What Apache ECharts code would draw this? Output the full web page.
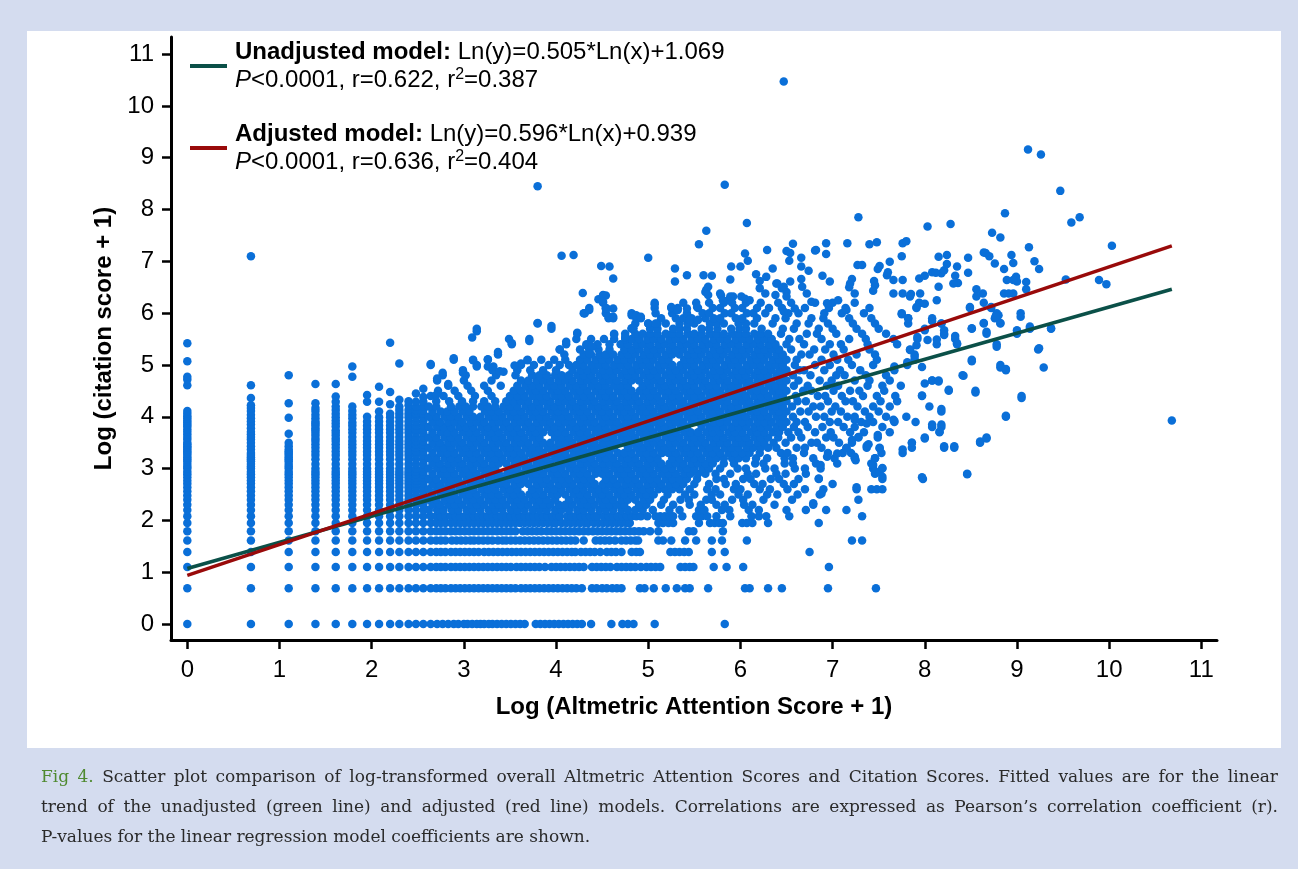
<!DOCTYPE html>
<html>
<head>
<meta charset="utf-8" />
<title>Altmetric vs citation scatter</title>
<script src="https://cdn.jsdelivr.net/npm/echarts@6/dist/echarts.min.js"></script>
<style>
  body { margin: 0; width: 1298px; height: 869px; background: #d4dcef; position: relative; overflow: hidden; }
  #panel { position: absolute; left: 27px; top: 31px; width: 1254px; height: 717px; background: #fff; }
  #main { position: absolute; left: 0; top: 0; width: 1298px; height: 869px; }
  #caption { position: absolute; left: 41px; top: 761px; width: 1237px; font-family: 'DejaVu Serif', serif; font-size: 17px; line-height: 30px; color: #2a2a2a; }
  #caption div { white-space: nowrap; text-align: justify; text-align-last: justify; }
  #caption div.last { text-align-last: left; }
  #caption .fig { color: #4f8a30; }
</style>
</head>
<body>
<div id="panel"></div>
<div id="main"></div>
<div id="caption">
  <div><span class="fig">Fig 4.</span> Scatter plot comparison of log-transformed overall Altmetric Attention Scores and Citation Scores. Fitted values are for the linear</div>
  <div>trend of the unadjusted (green line) and adjusted (red line) models. Correlations are expressed as Pearson’s correlation coefficient (r).</div>
  <div class="last">P-values for the linear regression model coefficients are shown.</div>
</div>
<script type="text/javascript">
var myChart = echarts.init(document.getElementById('main'));

const FONT = 'Liberation Sans, Arial, sans-serif';

// tick labels
const xTicks = [0, 1, 2, 3, 4, 5, 6, 7, 8, 9, 10, 11];
const yTicks = [0, 1, 2, 3, 4, 5, 6, 7, 8, 9, 10, 11];

// low citation rows (log values), x positions of dots along each row
const citeRows = [0, 0.69, 1.10, 1.39, 1.61, 1.79, 1.95, 2.08];
const citeRowX = [
  [0,0.69,1.10,1.39,1.61,1.79,1.95,2.08,2.20,2.30,2.40,2.48,2.56,2.64,2.71,2.77,2.83,2.89,2.94,3.00,3.04,3.09,3.14,3.18,3.22,3.27,3.31,3.36,3.41,3.46,3.51,3.56,3.61,3.66,3.78,3.83,3.88,3.93,3.98,4.03,4.08,4.13,4.18,4.23,4.28,4.38,4.60,4.72,4.78,4.84,5.07,5.83],
  [0,0.69,1.10,1.39,1.61,1.79,1.95,2.08,2.20,2.30,2.40,2.48,2.56,2.64,2.70,2.75,2.80,2.86,2.91,2.96,3.01,3.06,3.11,3.16,3.21,3.26,3.31,3.36,3.41,3.46,3.51,3.56,3.62,3.67,3.72,3.77,3.82,3.87,3.92,3.97,4.02,4.07,4.12,4.17,4.22,4.28,4.39,4.44,4.50,4.55,4.61,4.66,4.71,4.91,4.96,5.06,5.19,5.31,5.40,5.45,5.65,6.05,6.10,6.30,6.45,6.95,7.47],
  [0,0.69,1.10,1.39,1.61,1.79,1.95,2.08,2.20,2.30,2.40,2.48,2.56,2.64,2.70,2.75,2.80,2.86,2.91,2.96,3.01,3.06,3.11,3.16,3.21,3.26,3.31,3.36,3.41,3.46,3.51,3.57,3.62,3.67,3.72,3.77,3.82,3.88,3.95,4.00,4.05,4.10,4.15,4.20,4.25,4.30,4.39,4.44,4.49,4.54,4.59,4.66,4.71,4.76,4.81,4.86,4.92,4.98,5.03,5.08,5.13,5.35,5.40,5.45,5.49,5.71,5.85,6.03,6.96],
  [0,0.69,1.10,1.39,1.61,1.79,1.95,2.08,2.20,2.30,2.40,2.48,2.56,2.64,2.70,2.75,2.80,2.86,2.91,2.96,3.01,3.06,3.11,3.16,3.22,3.27,3.32,3.37,3.42,3.47,3.52,3.57,3.62,3.67,3.72,3.77,3.82,3.87,3.92,3.97,4.02,4.07,4.12,4.17,4.21,4.27,4.32,4.37,4.42,4.48,4.55,4.60,4.65,4.71,4.82,4.87,4.91,5.24,5.29,5.34,5.39,5.44,5.69,5.83,6.75],
  [0,0.69,1.10,1.39,1.61,1.79,1.95,2.08,2.20,2.30,2.40,2.48,2.56,2.64,2.70,2.75,2.80,2.87,2.92,2.97,3.02,3.07,3.11,3.16,3.21,3.26,3.31,3.37,3.42,3.46,3.51,3.56,3.61,3.66,3.71,3.76,3.81,3.86,3.91,3.96,4.01,4.06,4.11,4.16,4.21,4.30,4.43,4.48,4.53,4.58,4.64,4.71,4.76,4.81,4.86,4.89,5.11,5.16,5.25,5.40,5.52,5.69,5.80,6.07,7.21,7.32],
  [0,0.69,1.10,1.39,1.61,1.79,1.95,2.08,2.20,2.30,2.40,2.48,2.56,2.64,2.70,2.75,2.80,2.86,2.91,2.96,3.01,3.06,3.11,3.16,3.21,3.26,3.31,3.36,3.41,3.46,3.51,3.56,3.64,3.69,3.74,3.79,3.84,3.90,3.95,4.00,4.05,4.10,4.15,4.20,4.25,4.30,4.35,4.40,4.45,4.50,4.55,4.60,4.65,4.70,4.75,4.80,4.85,4.90,4.95,5.02,5.11,5.44,5.49,5.81],
  [0,0.69,1.10,1.39,1.61,1.79,1.95,2.08,2.20,2.30,2.40,2.48,2.56,2.64,2.70,2.75,2.80,2.86,2.91,2.96,3.01,3.06,3.11,3.16,3.21,3.26,3.31,3.36,3.41,3.46,3.51,3.56,3.61,3.66,3.71,3.76,3.81,3.86,3.91,3.96,4.00,4.06,4.11,4.16,4.21,4.26,4.31,4.35,4.41,4.46,4.51,4.56,4.61,4.66,4.71,4.76,4.80,5.11,5.16,5.22,5.27,5.55,5.67,5.72,5.77,5.81,6.02,6.07,6.13,6.30,6.85],
  [0,0.69,1.10,1.39,1.61,1.79,1.95,2.08,2.20,2.30,2.40,2.48,2.56,2.64,2.70,2.75,2.80,2.86,2.91,2.96,3.01,3.06,3.11,3.16,3.21,3.26,3.31,3.36,3.41,3.46,3.51,3.56,3.61,3.66,3.71,3.76,3.81,3.86,3.91,3.96,4.01,4.04,4.12,4.17,4.22,4.27,4.32,4.37,4.42,4.45,4.52,4.57,4.62,4.67,4.72,4.77,4.82,4.87,4.92,4.99,5.08,5.13,5.18,5.23,5.27,5.37,5.52,5.58,5.64,5.74,5.89,6.12,6.20,6.28,6.53,7.32]
];

// low altmetric columns (log values), y positions above the rows
const altCols = [0, 0.69, 1.10, 1.39, 1.61, 1.79, 1.95, 2.08, 2.20, 2.30, 2.40, 2.48, 2.56];
const altColY = [
  [2.20,2.30,2.40,2.48,2.56,2.64,2.71,2.77,2.83,2.89,2.94,3.00,3.04,3.09,3.14,3.18,3.22,3.26,3.30,3.33,3.37,3.40,3.43,3.47,3.50,3.56,3.61,3.66,3.71,3.76,3.81,3.85,3.89,3.93,3.97,4.01,4.06,4.11,4.61,4.72,4.77,5.07,5.42],
  [2.20,2.30,2.40,2.48,2.56,2.64,2.71,2.77,2.83,2.89,2.94,3.00,3.04,3.09,3.14,3.18,3.22,3.26,3.30,3.37,3.43,3.50,3.56,3.61,3.66,3.71,3.78,3.85,3.91,3.97,4.04,4.11,4.17,4.22,4.36,4.61,7.10],
  [2.20,2.30,2.40,2.48,2.56,2.64,2.71,2.77,2.83,2.89,2.94,3.00,3.04,3.09,3.14,3.18,3.22,3.26,3.30,3.33,3.37,3.43,3.50,3.67,3.98,4.26,4.80],
  [2.20,2.30,2.40,2.48,2.56,2.64,2.71,2.77,2.83,2.89,2.94,3.00,3.09,3.18,3.26,3.33,3.40,3.47,3.53,3.58,3.64,3.69,3.74,3.78,3.83,3.87,3.91,3.97,4.04,4.11,4.17,4.26,4.63],
  [2.20,2.30,2.40,2.48,2.56,2.64,2.71,2.77,2.83,2.89,2.94,3.00,3.09,3.18,3.26,3.33,3.40,3.47,3.53,3.58,3.64,3.69,3.74,3.81,3.87,3.93,3.99,4.06,4.13,4.20,4.29,4.39,4.63],
  [2.20,2.30,2.40,2.48,2.56,2.64,2.71,2.77,2.83,2.89,2.94,3.00,3.09,3.18,3.26,3.33,3.40,3.47,3.53,3.61,3.69,3.76,3.83,3.89,3.97,4.04,4.11,4.20,4.77,4.97],
  [2.20,2.30,2.40,2.48,2.56,2.64,2.71,2.77,2.83,2.89,2.94,3.00,3.09,3.18,3.26,3.33,3.40,3.47,3.53,3.61,3.69,3.76,3.83,3.91,4.00,4.29,4.42],
  [2.20,2.30,2.40,2.48,2.56,2.64,2.71,2.77,2.83,2.89,2.94,3.00,3.09,3.18,3.26,3.33,3.40,3.47,3.53,3.61,3.69,3.76,3.83,3.91,3.99,4.10,4.29,4.58],
  [2.20,2.30,2.40,2.48,2.56,2.64,2.71,2.77,2.83,2.89,2.94,3.00,3.09,3.18,3.26,3.33,3.40,3.47,3.53,3.61,3.69,3.76,3.83,3.91,3.99,4.06,4.24,4.48,5.43],
  [2.20,2.30,2.40,2.48,2.56,2.64,2.71,2.77,2.83,2.89,2.94,3.00,3.09,3.18,3.26,3.33,3.40,3.47,3.53,3.61,3.69,3.76,3.83,3.91,3.99,4.06,4.13,4.20,4.33,5.03],
  [2.20,2.30,2.40,2.48,2.56,2.64,2.71,2.77,2.83,2.89,2.94,3.00,3.09,3.18,3.26,3.33,3.40,3.47,3.53,3.61,3.69,3.76,3.83,3.91,3.99,4.06,4.13,4.22,4.30],
  [2.20,2.30,2.40,2.48,2.56,2.64,2.71,2.77,2.83,2.89,2.94,3.00,3.09,3.18,3.26,3.33,3.40,3.47,3.53,3.61,3.69,3.76,3.83,3.91,3.99,4.06,4.13,4.20,4.29,4.45],
  [2.20,2.30,2.40,2.48,2.56,2.64,2.71,2.77,2.83,2.89,2.94,3.00,3.09,3.18,3.26,3.33,3.40,3.47,3.53,3.61,3.69,3.76,3.83,3.91,3.99,4.06,4.13,4.21,4.29,4.38,4.54]
];

// main cloud, read row by row (y), x positions of dots
const cloudRows = [2.2,2.3,2.4,2.5,2.6,2.7,2.8,2.9,3.0,3.1,3.2,3.3,3.4,3.5,3.6,3.7,3.8,3.9,4.0,4.1,4.2,4.3,4.4,4.5,4.6,4.7,4.8,4.9,5.0,5.1,5.2,5.3,5.4,5.5,5.6,5.7,5.8,5.9,6.0,6.1,6.2];
const cloudRowX = [
  [2.62,2.71,2.78,2.87,2.94,3.03,3.10,3.18,3.27,3.34,3.42,3.51,3.58,3.66,3.75,3.82,3.90,3.99,4.06,4.14,4.23,4.30,4.38,4.47,4.54,4.62,4.71,4.78,4.86,4.94,5.05,5.23,5.34,5.55,5.61,5.80,5.88,6.09,6.20,6.50,6.71,6.93,7.15],
  [2.66,2.74,2.83,2.90,2.98,3.07,3.14,3.22,3.31,3.38,3.46,3.55,3.62,3.70,3.79,3.86,3.94,4.03,4.10,4.18,4.27,4.34,4.42,4.51,4.58,4.66,4.74,4.90,4.98,5.14,5.27,5.45,5.57,5.74,5.83,6.04,6.13,6.37,6.79],
  [2.62,2.70,2.79,2.86,2.94,3.03,3.10,3.18,3.27,3.34,3.42,3.51,3.58,3.66,3.75,3.82,3.90,3.99,4.14,4.23,4.30,4.38,4.47,4.54,4.62,4.71,4.78,4.86,4.95,5.02,5.17,5.35,5.44,5.63,5.69,5.91,6.03,6.25,6.56,7.28],
  [2.66,2.75,2.82,2.90,2.99,3.06,3.14,3.23,3.30,3.38,3.47,3.54,3.62,3.71,3.78,3.86,3.95,4.02,4.10,4.19,4.26,4.34,4.43,4.50,4.58,4.67,4.74,4.82,4.91,4.98,5.06,5.21,5.40,5.50,5.69,5.78,5.98,6.08,6.29,6.40,6.62,6.86],
  [2.62,2.71,2.78,2.86,2.95,3.02,3.10,3.19,3.26,3.34,3.43,3.50,3.58,3.74,3.82,3.91,3.98,4.06,4.15,4.22,4.30,4.39,4.46,4.54,4.63,4.70,4.78,4.87,4.94,5.02,5.11,5.18,5.26,5.34,5.45,5.64,5.73,5.93,6.00,6.21,6.32,6.51,6.70,6.90,7.26,7.42,7.48,7.54],
  [2.66,2.74,2.83,2.90,2.98,3.07,3.14,3.22,3.31,3.38,3.46,3.55,3.62,3.70,3.79,3.86,3.94,4.03,4.10,4.18,4.27,4.34,4.42,4.51,4.58,4.66,4.75,4.82,4.90,4.99,5.06,5.14,5.23,5.30,5.38,5.50,5.66,5.84,5.95,6.15,6.24,6.47,6.58,7.00],
  [2.62,2.70,2.79,2.86,2.94,3.03,3.10,3.18,3.27,3.34,3.42,3.51,3.58,3.66,3.75,3.82,3.90,3.99,4.06,4.14,4.23,4.30,4.38,4.54,4.62,4.71,4.78,4.86,4.95,5.02,5.10,5.19,5.26,5.34,5.42,5.53,5.74,5.82,6.03,6.11,6.33,6.42,6.63,6.85,7.54,7.98],
  [2.66,2.75,2.82,2.90,2.99,3.06,3.14,3.23,3.30,3.38,3.47,3.54,3.62,3.71,3.78,3.86,3.95,4.02,4.10,4.19,4.26,4.34,4.43,4.50,4.58,4.67,4.74,4.82,4.91,4.98,5.06,5.15,5.22,5.30,5.39,5.46,5.54,5.62,5.73,5.89,6.08,6.17,6.39,6.49,6.71,7.46,8.46],
  [2.62,2.71,2.78,2.86,2.95,3.02,3.10,3.19,3.26,3.34,3.50,3.58,3.67,3.74,3.82,3.91,3.98,4.06,4.15,4.22,4.30,4.39,4.46,4.54,4.63,4.70,4.78,4.87,4.94,5.02,5.11,5.18,5.26,5.35,5.42,5.50,5.59,5.66,5.78,5.97,6.06,6.27,6.37,6.59,6.70,6.87,7.44,7.54],
  [2.66,2.74,2.83,2.90,2.98,3.07,3.14,3.22,3.31,3.38,3.46,3.55,3.62,3.70,3.79,3.86,3.94,4.03,4.10,4.18,4.27,4.34,4.42,4.51,4.58,4.66,4.75,4.82,4.90,4.99,5.06,5.14,5.23,5.30,5.38,5.47,5.54,5.62,5.70,5.82,5.93,6.16,6.25,6.48,6.57,6.82,7.05,7.42],
  [2.62,2.70,2.79,2.86,2.94,3.03,3.10,3.18,3.27,3.34,3.42,3.51,3.58,3.66,3.75,3.82,3.90,3.99,4.06,4.14,4.23,4.30,4.38,4.47,4.54,4.62,4.71,4.78,4.86,4.95,5.02,5.10,5.26,5.34,5.43,5.50,5.58,5.67,5.74,5.82,5.91,5.98,6.06,6.17,6.29,6.48,6.57,6.79,7.02,7.24,7.46],
  [2.66,2.75,2.82,2.90,2.99,3.06,3.14,3.23,3.30,3.38,3.47,3.54,3.62,3.71,3.78,3.86,3.95,4.02,4.10,4.19,4.26,4.34,4.43,4.50,4.58,4.67,4.74,4.82,4.91,4.98,5.06,5.15,5.22,5.30,5.39,5.46,5.54,5.63,5.70,5.78,5.87,5.94,6.02,6.10,6.21,6.44,6.51,6.69,6.95,7.11,7.20,7.53,7.76],
  [2.62,2.71,2.78,2.86,2.95,3.02,3.10,3.19,3.26,3.34,3.43,3.50,3.58,3.67,3.74,3.82,3.91,3.98,4.06,4.15,4.22,4.30,4.39,4.46,4.54,4.63,4.78,4.87,4.94,5.02,5.11,5.18,5.26,5.35,5.42,5.50,5.59,5.66,5.74,5.83,5.90,5.98,6.07,6.14,6.22,6.30,6.39,6.61,6.70,6.88,7.15,7.37,7.51,7.86,8.21,8.32],
  [2.66,2.74,2.83,2.90,2.98,3.07,3.14,3.22,3.31,3.38,3.46,3.55,3.62,3.70,3.79,3.86,3.94,4.03,4.10,4.18,4.27,4.34,4.42,4.51,4.58,4.66,4.75,4.82,4.90,4.99,5.06,5.14,5.23,5.30,5.38,5.47,5.54,5.62,5.71,5.78,5.86,5.95,6.02,6.10,6.19,6.26,6.36,6.49,6.77,6.83,7.07,7.21,7.86,8.60],
  [2.62,2.70,2.79,2.86,2.94,3.03,3.10,3.18,3.27,3.34,3.42,3.51,3.58,3.66,3.75,3.82,3.99,4.06,4.14,4.23,4.30,4.38,4.47,4.54,4.62,4.71,4.78,4.86,4.95,5.02,5.10,5.19,5.26,5.34,5.43,5.50,5.58,5.67,5.74,5.82,5.91,5.98,6.06,6.15,6.22,6.30,6.41,6.55,6.66,6.93,7.01,7.28,7.49,8.00,8.67],
  [2.66,2.75,2.82,2.90,2.99,3.06,3.14,3.23,3.30,3.38,3.47,3.54,3.62,3.71,3.78,3.86,3.95,4.02,4.10,4.19,4.26,4.34,4.43,4.50,4.58,4.67,4.74,4.82,4.91,4.98,5.06,5.15,5.22,5.30,5.39,5.46,5.54,5.63,5.70,5.78,5.87,5.94,6.02,6.11,6.18,6.26,6.35,6.42,6.52,6.63,6.81,6.98,7.19,7.34,7.62,8.16],
  [2.62,2.71,2.78,2.86,2.95,3.02,3.10,3.19,3.26,3.34,3.43,3.50,3.58,3.67,3.74,3.82,3.91,3.98,4.06,4.15,4.22,4.30,4.39,4.46,4.54,4.63,4.70,4.78,4.87,4.94,5.02,5.11,5.18,5.26,5.35,5.42,5.58,5.67,5.74,5.82,5.91,5.98,6.06,6.15,6.22,6.30,6.39,6.46,6.58,6.73,6.89,7.12,7.24,7.54,8.08,8.18],
  [2.66,2.74,2.83,2.90,2.98,3.07,3.14,3.22,3.31,3.38,3.46,3.55,3.62,3.70,3.79,3.86,3.94,4.03,4.10,4.18,4.27,4.34,4.42,4.51,4.58,4.66,4.75,4.82,4.90,4.99,5.06,5.14,5.23,5.30,5.38,5.47,5.54,5.62,5.71,5.78,5.86,5.95,6.02,6.10,6.19,6.26,6.34,6.43,6.50,6.61,6.70,6.97,7.06,7.31,7.44,7.67,7.90],
  [2.62,2.70,2.79,2.86,2.94,3.03,3.10,3.18,3.27,3.34,3.42,3.51,3.58,3.66,3.75,3.82,3.90,3.99,4.06,4.14,4.23,4.30,4.38,4.47,4.54,4.62,4.71,4.78,4.86,4.95,5.02,5.10,5.19,5.26,5.34,5.43,5.50,5.58,5.67,5.74,5.82,5.91,5.98,6.06,6.15,6.22,6.30,6.39,6.46,6.57,6.82,6.91,7.16,7.24,7.40,7.58,7.80,8.88],
  [2.66,2.75,2.82,2.90,2.99,3.06,3.23,3.30,3.38,3.47,3.54,3.62,3.71,3.78,3.86,3.95,4.02,4.10,4.19,4.26,4.34,4.43,4.50,4.58,4.67,4.74,4.82,4.91,4.98,5.06,5.15,5.22,5.30,5.39,5.46,5.54,5.63,5.70,5.78,5.87,5.94,6.02,6.11,6.18,6.26,6.35,6.42,6.50,6.65,6.74,6.99,7.09,7.35,7.50,8.18],
  [2.62,2.70,2.86,2.95,3.02,3.10,3.19,3.26,3.34,3.43,3.50,3.58,3.67,3.74,3.82,3.91,3.98,4.06,4.15,4.22,4.30,4.39,4.46,4.54,4.63,4.70,4.78,4.87,4.94,5.02,5.11,5.18,5.26,5.35,5.42,5.50,5.59,5.66,5.74,5.83,5.90,5.98,6.07,6.14,6.22,6.31,6.38,6.46,6.56,6.79,6.87,7.03,7.27,7.44,7.62,8.05],
  [2.70,2.84,2.98,3.10,3.22,3.34,3.46,3.54,3.62,3.70,3.79,3.86,3.94,4.03,4.10,4.18,4.27,4.34,4.42,4.51,4.58,4.66,4.75,4.82,4.90,4.99,5.06,5.14,5.23,5.30,5.38,5.47,5.54,5.62,5.71,5.78,5.86,5.95,6.02,6.10,6.19,6.26,6.34,6.43,6.50,6.62,6.71,6.95,7.14,7.22,7.52,7.70],
  [2.64,2.78,2.94,3.12,3.30,3.50,3.58,3.66,3.75,3.82,3.90,3.99,4.06,4.14,4.23,4.30,4.38,4.47,4.54,4.62,4.71,4.78,4.86,4.95,5.02,5.10,5.19,5.26,5.34,5.43,5.50,5.58,5.67,5.74,5.82,5.91,5.98,6.06,6.15,6.22,6.30,6.39,6.46,6.60,6.84,6.92,7.10,7.33,7.48,7.68,7.97,9.05],
  [2.72,2.90,3.08,3.26,3.54,3.62,3.71,3.78,3.86,3.95,4.02,4.10,4.19,4.26,4.34,4.43,4.50,4.58,4.67,4.74,4.82,4.91,4.98,5.06,5.15,5.22,5.30,5.39,5.46,5.54,5.63,5.70,5.78,5.87,5.94,6.02,6.11,6.18,6.26,6.35,6.42,6.50,6.68,6.77,7.01,7.19,7.29,7.56,8.26,8.55],
  [2.83,3.04,3.22,3.40,3.58,3.67,3.74,3.82,3.91,3.98,4.06,4.15,4.22,4.30,4.39,4.46,4.54,4.63,4.70,4.78,4.94,5.02,5.11,5.18,5.26,5.35,5.42,5.50,5.59,5.66,5.74,5.83,5.90,5.98,6.07,6.14,6.22,6.31,6.38,6.46,6.58,6.73,6.94,7.06,7.38,7.54,7.74],
  [2.71,3.00,3.30,3.62,3.70,3.79,3.86,3.94,4.03,4.10,4.18,4.27,4.34,4.42,4.51,4.58,4.66,4.75,4.82,4.90,4.99,5.06,5.14,5.23,5.30,5.38,5.47,5.54,5.62,5.71,5.78,5.86,5.95,6.02,6.10,6.19,6.26,6.34,6.43,6.50,6.63,6.86,6.99,7.24,7.40,7.62,8.08,8.15],
  [2.77,3.02,3.35,3.56,3.74,3.82,3.90,3.99,4.06,4.14,4.23,4.30,4.38,4.47,4.54,4.62,4.71,4.78,4.86,4.95,5.02,5.10,5.19,5.26,5.34,5.43,5.50,5.58,5.67,5.74,5.82,5.91,5.98,6.06,6.15,6.22,6.30,6.39,6.46,6.57,6.76,7.04,7.13,7.36,7.58,8.41],
  [2.99,3.31,3.58,3.72,3.86,4.00,4.18,4.27,4.34,4.42,4.51,4.58,4.66,4.75,4.82,4.90,4.99,5.06,5.14,5.23,5.30,5.38,5.47,5.54,5.62,5.71,5.78,5.86,5.95,6.02,6.10,6.19,6.26,6.34,6.43,6.50,6.64,6.69,6.91,7.08,7.30,7.67,8.88],
  [2.64,3.14,3.62,3.76,3.92,4.04,4.14,4.22,4.30,4.39,4.46,4.54,4.63,4.70,4.78,4.87,4.94,5.02,5.11,5.18,5.26,5.35,5.42,5.50,5.59,5.66,5.74,5.83,5.90,5.98,6.07,6.14,6.22,6.31,6.38,6.46,6.59,6.81,6.97,7.21,7.44,7.81,8.82],
  [2.89,3.10,3.26,3.69,3.84,3.98,4.10,4.26,4.34,4.43,4.50,4.58,4.67,4.74,4.82,4.91,4.98,5.06,5.15,5.22,5.39,5.46,5.54,5.63,5.70,5.78,5.87,5.94,6.02,6.11,6.18,6.26,6.35,6.42,6.50,6.61,6.88,7.05,7.17,7.48,7.89,8.51],
  [3.37,4.09,4.30,4.38,4.47,4.54,4.62,4.71,4.78,4.86,4.95,5.02,5.10,5.19,5.26,5.34,5.43,5.50,5.58,5.67,5.74,5.82,5.91,5.98,6.06,6.15,6.22,6.30,6.39,6.46,6.66,6.75,7.01,7.26,7.46,7.89],
  [4.04,4.26,4.36,4.46,4.58,4.74,4.82,4.90,4.99,5.06,5.14,5.23,5.30,5.38,5.47,5.54,5.62,5.71,5.78,5.86,5.95,6.02,6.10,6.19,6.26,6.34,6.42,6.55,6.80,6.92,7.12,7.40,7.84,9.23],
  [3.52,4.11,4.33,4.45,4.58,4.70,4.78,4.87,4.94,5.02,5.11,5.18,5.26,5.35,5.42,5.50,5.59,5.66,5.74,5.83,5.90,5.98,6.07,6.14,6.22,6.31,6.38,6.50,6.69,6.97,7.09,7.38,7.70,8.13,8.35,8.78],
  [3.49,3.71,4.22,4.38,4.52,4.63,4.75,4.82,4.90,4.99,5.06,5.14,5.23,5.30,5.38,5.47,5.54,5.62,5.71,5.78,5.86,5.95,6.02,6.10,6.19,6.26,6.34,6.53,6.64,6.88,7.18,7.36,7.66,7.92,8.33],
  [4.23,4.63,4.75,4.86,4.94,5.02,5.10,5.19,5.26,5.34,5.43,5.50,5.58,5.67,5.74,5.82,5.91,5.98,6.06,6.15,6.22,6.30,6.44,6.72,6.83,7.04,7.32,7.58,8.21,8.67,9.00],
  [3.14,3.95,4.82,5.02,5.10,5.27,5.34,5.42,5.58,5.66,5.75,5.90,5.99,6.06,6.23,6.46,6.58,6.85,7.00,7.26,7.50,8.00,8.51,9.14,9.37],
  [3.80,4.86,5.00,5.10,5.19,5.34,5.43,5.50,5.67,5.74,5.82,5.98,6.06,6.15,6.35,6.61,6.74,6.95,7.22,7.46,7.82,8.18,8.64,8.82],
  [4.57,4.62,4.87,4.92,5.14,5.30,5.38,5.47,5.62,5.71,5.78,5.95,6.02,6.18,6.38,6.49,6.77,6.90,7.18,7.42,7.82,8.08,8.76],
  [4.31,4.54,4.82,5.08,5.26,5.42,5.59,5.66,5.83,5.90,6.07,6.14,6.27,6.52,6.63,6.91,7.10,7.34,7.75,8.78,9.04],
  [4.36,4.54,5.07,5.25,5.32,5.54,5.70,5.78,5.94,6.02,6.18,6.31,6.45,6.70,6.96,7.14,7.40,7.91,8.49,8.72],
  [4.51,5.07,5.38,5.52,5.66,5.82,5.91,6.06,6.22,6.41,6.55,6.81,7.00,7.24,7.94,8.64]
];

// isolated dots: upper fringe, right tail and outliers [x, y]
const scattered = [
  [3.80,8.45],[5.83,8.48],[6.47,10.47],[9.12,9.16],[9.26,9.06],[9.47,8.36],[8.87,7.93],[9.59,7.75],[9.68,7.85],[8.28,7.72],
  [8.03,7.67],[7.28,7.85],[6.07,7.74],[5.63,7.59],[5.55,7.33],[8.73,7.55],[8.82,7.46],[10.03,7.30],[9.13,7.27],[9.19,7.00],
  [9.24,6.85],[9.89,6.64],[9.97,6.56],[10.68,3.93],
  [4.06,7.11],[4.19,7.12],[5.00,7.07],[4.49,6.91],[4.58,6.90],[4.62,6.67],[5.29,6.86],[5.42,6.73],[5.29,6.61],[5.69,6.72],
  [5.60,6.73],[6.05,7.15],[6.08,7.01],[5.90,6.90],[6.00,6.90],[5.89,6.65],[6.17,6.75],[6.28,6.70],[6.29,7.22],[6.50,7.20],
  [6.57,7.34],[6.53,7.01],[6.66,7.07],[6.81,7.21],[6.93,7.35],[6.93,7.14],[7.16,7.35],[7.40,7.33],[7.48,7.37],[7.75,7.10],
  [7.76,7.35],[7.80,7.39],[7.27,6.93],[7.32,6.93],[7.51,6.91],[7.49,6.85],[7.62,6.99],[7.59,6.73],[8.15,7.09],[8.24,7.12],
  [8.35,6.90],[8.33,6.72],[8.36,6.58],[8.47,7.07],[8.47,6.78],[8.64,7.17],[8.70,7.10],[8.76,6.96],[8.86,6.85],[8.94,7.12],
  [8.96,6.97],[9.10,6.60],[9.10,6.46],[9.53,6.65],[8.56,6.46],[8.63,6.38],[7.94,6.67],[8.00,6.72],[8.08,6.79],[8.99,6.70],
  [9.00,6.61],[8.66,7.16],[6.21,6.62],[6.35,6.86],[6.39,6.57],[6.45,6.48],[6.50,6.41],[6.66,6.90],[6.74,6.82],[6.66,6.66],
  [6.89,6.72],[6.97,6.61],[7.18,6.50],[7.21,6.66],[7.45,6.62],[7.46,6.54],[7.44,6.43],[7.60,6.79],[7.66,6.38],[7.76,6.38],
  [7.85,6.37],[7.76,6.64],[8.15,6.51],[8.18,6.77],[8.21,6.83],[8.24,6.95],[8.89,6.64],[8.12,6.78],[6.82,7.22],[6.54,7.16],
  [5.87,6.25],[5.92,6.32],[6.01,6.32],[6.10,6.25],[6.27,6.38],[6.21,6.48],[6.40,6.57],[6.54,6.61],[6.67,6.51],[7.19,6.57],
  [7.24,6.38],[7.66,6.64],[7.84,6.32],[7.95,6.38],[8.13,6.25],[8.31,6.57],[8.96,6.38],[8.86,6.38],[8.91,6.38],[5.63,6.45],
  [5.65,6.35],[5.79,6.34],[5.78,6.38],[5.81,6.25],[5.89,6.32],[6.05,6.28],[6.38,6.35],[6.47,6.51],[6.50,6.32],[6.72,6.38],
  [6.77,6.22],[6.94,6.19],[7.06,6.25],[7.15,6.06],[6.59,6.09],[6.47,6.03],[5.62,6.41],[5.65,6.51],[5.31,6.06],[5.42,6.09],
  [5.53,6.12],[4.29,6.39],[4.46,6.27],[4.54,6.34],[4.51,6.35],[5.07,6.17],[5.25,6.12],[4.30,6.00],[4.62,6.09],[4.55,6.09],
  [9.37,5.71],[9.24,5.32],[9.29,4.95],[9.05,4.36],[8.88,4.02],[8.82,4.95],[8.88,4.92],[8.78,5.35],[9.04,5.93],[9.00,5.67],
  [9.14,5.74],[8.67,5.64],[8.80,5.96],[8.82,5.81],[8.64,5.81],[8.56,6.32],[8.96,6.64],[8.72,6.12],[8.77,5.94],[8.49,6.12],
  [8.51,5.71],[8.33,5.56],[8.35,5.42],[8.18,5.80],[8.21,5.67],[8.21,5.58],[8.08,5.85],[8.13,5.49],[8.00,5.67],[7.94,6.19],
  [8.00,6.18],[7.91,6.12],[7.75,5.98],[7.82,5.90],[7.91,5.38],[7.84,5.29],[7.89,5.16],[7.81,5.05],[7.92,5.54],[7.97,4.96],
  [8.03,5.48],[8.00,4.64],[8.08,4.70],[8.15,4.68],[7.97,4.41],[8.26,4.52],[8.42,4.79],[8.55,4.47],[8.51,5.07],[7.67,4.97],
  [8.18,4.15],[8.18,3.85],[8.08,3.85],[8.16,3.71],[8.21,3.43],[8.32,3.43],[8.60,3.52],[8.67,3.58],[8.00,3.58],[7.86,3.50],
  [7.76,3.37],[7.97,2.83],[8.46,2.89],[7.66,3.94],[7.37,3.44],[7.54,2.84],[7.26,2.64],[7.24,3.23],[7.25,3.16],[7.44,3.07],
  [7.46,2.94],[7.51,2.94],[7.54,3.01],[7.46,3.20],[7.39,3.47],[7.37,3.87],[7.51,3.39],[7.49,3.65],[7.67,3.92],[7.15,3.39],
  [7.21,3.55],[7.28,3.61],[7.24,3.94],[7.05,3.29],[6.94,3.23],[6.87,3.07],[6.85,2.81],[6.79,2.33],[6.88,2.52],
  [2.64,5.02],[2.71,4.74],[2.77,4.85],[2.83,4.63],[2.89,5.13],[2.70,4.42],[2.99,4.85],[3.10,5.09],[3.14,4.97],[3.26,5.11],
  [3.26,4.97],[3.39,4.88],[3.09,5.53],[3.14,5.65],[3.37,5.25],[3.52,5.42],[3.58,4.95],[3.62,5.03],[3.69,5.09],[3.71,5.46],
  [3.80,5.81],[3.95,5.75],[4.04,5.30],[4.11,5.45],[4.23,5.62],[4.33,5.38],[4.39,5.35],[4.36,5.22],[4.31,6.00],[4.36,6.06],
  [4.51,6.22],[4.63,5.59],[4.75,5.54],[4.82,5.96],[4.87,5.96],[4.92,5.93],[4.54,6.09],[4.57,5.93],[4.62,5.93],[4.82,5.71],
  [5.00,5.80],[5.08,5.80],[5.32,6.06],[3.32,4.97],[3.43,4.87],[3.55,4.99],[4.84,5.71],[5.45,5.87],[5.54,5.87]
];

// fitted lines, read at both ends
const fitX = [0, 10.68];
const unadjFit = [1.07, 6.46];
const adjFit = [0.94, 7.30];

const points = [];
citeRows.forEach((y, i) => citeRowX[i].forEach(x => points.push([x, y])));
altCols.forEach((x, i) => altColY[i].forEach(y => points.push([x, y])));
cloudRows.forEach((y, i) => cloudRowX[i].forEach(x => points.push([x, y])));
scattered.forEach(p => points.push(p));

const axisText = { color: '#000', fontSize: 24, fontFamily: FONT };
const nameText = { color: '#000', fontSize: 24, fontWeight: 'bold', fontFamily: FONT };

const option = {
  animation: false,
  grid: { left: 171, right: 81, top: 37, bottom: 229 },
  xAxis: {
    type: 'value', min: -0.177, max: 11.17,
    name: 'Log (Altmetric Attention Score + 1)', nameLocation: 'middle', nameGap: 55, nameTextStyle: nameText,
    axisLine: { onZero: false, lineStyle: { color: '#000', width: 3 } },
    axisTick: { show: true, length: 9, lineStyle: { color: '#000', width: 2.5 }, customValues: xTicks },
    axisLabel: Object.assign({ margin: 18, customValues: xTicks }, axisText),
    splitLine: { show: false }
  },
  yAxis: {
    type: 'value', min: -0.309, max: 11.33,
    name: 'Log (citation score + 1)', nameLocation: 'middle', nameGap: 52, nameTextStyle: nameText,
    axisLine: { show: true, onZero: false, lineStyle: { color: '#000', width: 3 } },
    axisTick: { show: true, length: 9, lineStyle: { color: '#000', width: 2.5 }, customValues: yTicks },
    axisLabel: Object.assign({ margin: 17, customValues: yTicks }, axisText),
    splitLine: { show: false }
  },
  series: [
    {
      type: 'scatter', data: points, symbol: 'circle', symbolSize: 8.5, large: false, silent: true, z: 2,
      itemStyle: { color: '#0a6fd8', opacity: 1, borderWidth: 0 }
    },
    {
      type: 'line', data: fitX.map((x, i) => [x, unadjFit[i]]), symbol: 'none', silent: true, z: 3,
      lineStyle: { color: '#0b5048', width: 3.5 }
    },
    {
      type: 'line', data: fitX.map((x, i) => [x, adjFit[i]]), symbol: 'none', silent: true, z: 4,
      lineStyle: { color: '#990a0a', width: 3.5 }
    }
  ],
  graphic: [
    { type: 'line', shape: { x1: 190, y1: 66, x2: 227, y2: 66 }, style: { stroke: '#0b5048', lineWidth: 4 } },
    { type: 'line', shape: { x1: 190, y1: 148, x2: 227, y2: 148 }, style: { stroke: '#990a0a', lineWidth: 4 } },
    {
      type: 'text', x: 235, y: 52,
      style: {
        text: '{b|Unadjusted model:}{n| Ln(y)=0.505*Ln(x)+1.069}', verticalAlign: 'middle',
        rich: {
          b: { fontSize: 24, fontWeight: 'bold', fontFamily: FONT, fill: '#000' },
          n: { fontSize: 24, fontFamily: FONT, fill: '#000' }
        }
      }
    },
    {
      type: 'text', x: 235, y: 80,
      style: {
        text: '{i|P}{n|<0.0001, r=0.622, r}{s|2}{n|=0.387}', verticalAlign: 'middle',
        rich: {
          i: { fontSize: 24, fontStyle: 'italic', fontFamily: FONT, fill: '#000', lineHeight: 26 },
          n: { fontSize: 24, fontFamily: FONT, fill: '#000', lineHeight: 26 },
          s: { fontSize: 16, fontFamily: FONT, fill: '#000', verticalAlign: 'top', lineHeight: 26 }
        }
      }
    },
    {
      type: 'text', x: 235, y: 134,
      style: {
        text: '{b|Adjusted model:}{n| Ln(y)=0.596*Ln(x)+0.939}', verticalAlign: 'middle',
        rich: {
          b: { fontSize: 24, fontWeight: 'bold', fontFamily: FONT, fill: '#000' },
          n: { fontSize: 24, fontFamily: FONT, fill: '#000' }
        }
      }
    },
    {
      type: 'text', x: 235, y: 162,
      style: {
        text: '{i|P}{n|<0.0001, r=0.636, r}{s|2}{n|=0.404}', verticalAlign: 'middle',
        rich: {
          i: { fontSize: 24, fontStyle: 'italic', fontFamily: FONT, fill: '#000', lineHeight: 26 },
          n: { fontSize: 24, fontFamily: FONT, fill: '#000', lineHeight: 26 },
          s: { fontSize: 16, fontFamily: FONT, fill: '#000', verticalAlign: 'top', lineHeight: 26 }
        }
      }
    }
  ]
};

myChart.setOption(option);
</script>
</body>
</html>
